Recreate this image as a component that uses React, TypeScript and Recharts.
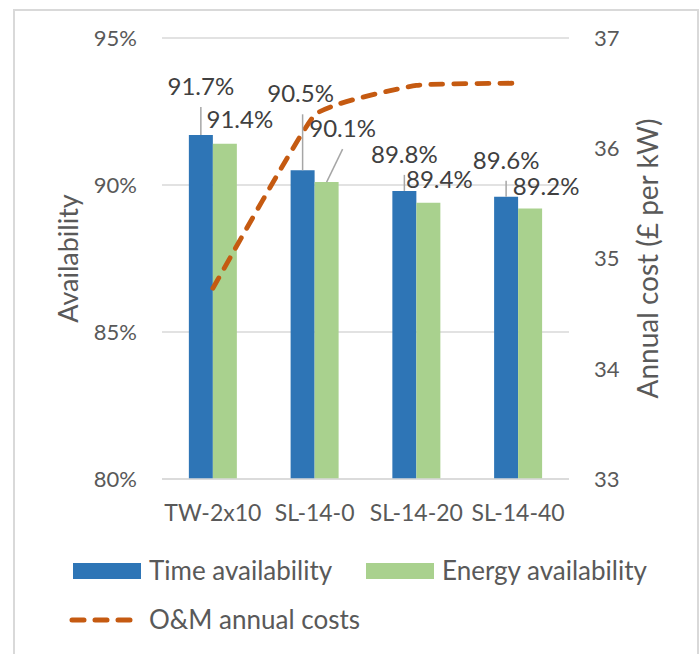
import React from "react";
import { ComposedChart, Bar, Line, XAxis, YAxis, CartesianGrid, Legend } from "recharts";

const categories = ["TW-2x10", "SL-14-0", "SL-14-20", "SL-14-40"];
const timeAvailability = [91.7, 90.5, 89.8, 89.6];
const energyAvailability = [91.4, 90.1, 89.4, 89.2];
const omAnnualCosts = [34.73, 36.3, 36.57, 36.59];
const leftTicks = [80, 85, 90, 95];
const rightTicks = [33, 34, 35, 36, 37];

const data = categories.map((c, i) => ({
  name: c,
  time: timeAvailability[i],
  energy: energyAvailability[i],
  cost: omAnnualCosts[i],
}));

const FONT = "Lato, 'Open Sans', sans-serif";
const BLUE = "#2E75B6";
const GREEN = "#A9D18E";
const ORANGE = "#C55A11";
const TICK = "#595959";
const LABEL = "#404040";
const LEADER = "#A6A6A6";

// lightly smoothed line (short Catmull-Rom style handles)
const SMOOTH = 0.06;
const smoothCurve = (context: any) => {
  let pts: number[][] = [];
  return {
    areaStart() {},
    areaEnd() {},
    lineStart() {
      pts = [];
    },
    point(x: number, y: number) {
      pts.push([+x, +y]);
    },
    lineEnd() {
      if (!pts.length) return;
      context.moveTo(pts[0][0], pts[0][1]);
      for (let i = 0; i < pts.length - 1; i++) {
        const p0 = pts[i - 1] || pts[i];
        const p1 = pts[i];
        const p2 = pts[i + 1];
        const p3 = pts[i + 2] || pts[i + 1];
        const c1x = p1[0] + (p2[0] - p0[0]) * SMOOTH;
        const c1y = p1[1] + (p2[1] - p0[1]) * SMOOTH;
        const c2x = p2[0] - (p3[0] - p1[0]) * SMOOTH;
        const c2y = p2[1] - (p3[1] - p1[1]) * SMOOTH;
        context.bezierCurveTo(c1x, c1y, c2x, c2y, p2[0], p2[1]);
      }
    },
  };
};

// label placement (dx from bar centre, rise of baseline above bar top, leader line)
const timeLabelPos = [
  { dx: 0, rise: 40, leader: true },
  { dx: -2, rise: 68, leader: true },
  { dx: 0, rise: 28, leader: true },
  { dx: 0, rise: 28, leader: true },
];
const energyLabelPos = [
  { dx: 15, rise: 16, leader: false },
  { dx: 16, rise: 45, leader: true },
  { dx: 11, rise: 15, leader: false },
  { dx: 16, rise: 14, leader: false },
];

const makeLabel = (pos: any[], slanted: boolean) => (props: any) => {
  const { x, y, width, value, index } = props;
  const p = pos[index];
  const cx = x + width / 2;
  const tx = cx + p.dx;
  const ty = y - p.rise;
  return (
    <g key={`l-${index}`}>
      {p.leader && (
        <line
          x1={slanted ? tx : cx}
          y1={ty + 12}
          x2={cx}
          y2={y}
          stroke={LEADER}
          strokeWidth={1.5}
        />
      )}
      <text x={tx} y={ty} textAnchor="middle" fill={LABEL} fontSize={24} fontFamily={FONT}>
        {`${Number(value).toFixed(1)}%`}
      </text>
    </g>
  );
};

const renderLegend = (props: any) => {
  const payload = props.payload || [];
  const find = (k: string) => payload.find((p: any) => p.dataKey === k) || {};
  const t = find("time");
  const e = find("energy");
  const c = find("cost");
  const textStyle: React.CSSProperties = {
    position: "absolute",
    fontFamily: FONT,
    fontSize: 26,
    color: TICK,
    whiteSpace: "nowrap",
    lineHeight: "30px",
  };
  return (
    <div style={{ position: "relative", width: 699, height: 100 }}>
      <div style={{ position: "absolute", left: 73, top: 13, width: 68, height: 16, background: t.color }} />
      <div style={{ ...textStyle, left: 149, top: 5 }}>{t.value}</div>
      <div style={{ position: "absolute", left: 366, top: 13, width: 68, height: 16, background: e.color }} />
      <div style={{ ...textStyle, left: 442, top: 5 }}>{e.value}</div>
      <svg style={{ position: "absolute", left: 60, top: 60 }} width={90} height={20}>
        <line x1={12} y1={10} x2={75} y2={10} stroke={c.color} strokeWidth={5} strokeDasharray="12 11" strokeLinecap="round" />
      </svg>
      <div style={{ ...textStyle, left: 149, top: 54 }}>{c.value}</div>
    </div>
  );
};

export default function App() {
  return (
    <div style={{ position: "absolute", left: 0, top: 0, width: 699, height: 654, background: "#fff", overflow: "hidden" }}>
      <div
        style={{
          position: "absolute",
          left: 13,
          top: 9,
          width: 686,
          height: 700,
          boxSizing: "border-box",
          border: "2px solid #D9D9D9",
        }}
      />
      <div style={{ position: "absolute", left: 0, top: 0 }}>
        <ComposedChart
          width={699}
          height={654}
          data={data}
          margin={{ top: 38, right: 0, left: 0, bottom: 145 }}
          barGap={0}
          barCategoryGap="26.4%"
        >
          <CartesianGrid vertical={false} stroke="#D9D9D9" strokeWidth={1.5} yAxisId="left" />
          <XAxis
            dataKey="name"
            height={30}
            axisLine={{ stroke: "#D9D9D9", strokeWidth: 1.5 }}
            tickLine={false}
            tickSize={0}
            tickMargin={26}
            tick={{ fill: TICK, fontSize: 23, fontFamily: FONT }}
            interval={0}
          />
          <YAxis
            yAxisId="left"
            width={162}
            domain={[80, 95]}
            ticks={leftTicks}
            tickFormatter={(v: number) => `${v}%`}
            axisLine={false}
            tickLine={false}
            tickSize={0}
            tickMargin={25}
            tick={{ fill: TICK, fontSize: 22, fontFamily: FONT }}
            label={{
              content: (p: any) => {
                const vb = p.viewBox;
                const cx = vb.x + 67;
                const cy = vb.y + vb.height / 2;
                return (
                  <text x={cx} y={cy} transform={`rotate(-90 ${cx} ${cy})`} textAnchor="middle" dominantBaseline="central" fill={TICK} fontSize={27} fontFamily={FONT}>
                    Availability
                  </text>
                );
              },
            }}
          />
          <YAxis
            yAxisId="right"
            orientation="right"
            width={130}
            domain={[33, 37]}
            ticks={rightTicks}
            axisLine={false}
            tickLine={false}
            tickSize={0}
            tickMargin={25}
            tick={{ fill: TICK, fontSize: 22, fontFamily: FONT }}
            label={{
              content: (p: any) => {
                const vb = p.viewBox;
                const cx = vb.x + 78;
                const cy = vb.y + vb.height / 2;
                return (
                  <text x={cx} y={cy} transform={`rotate(-90 ${cx} ${cy})`} textAnchor="middle" dominantBaseline="central" fill={TICK} fontSize={28} fontFamily={FONT}>
                    Annual cost (£ per kW)
                  </text>
                );
              },
            }}
          />
          <Bar yAxisId="left" dataKey="time" name="Time availability" fill={BLUE} isAnimationActive={false} label={makeLabel(timeLabelPos, false)} />
          <Bar yAxisId="left" dataKey="energy" name="Energy availability" fill={GREEN} isAnimationActive={false} label={makeLabel(energyLabelPos, true)} />
          <Line
            yAxisId="right"
            type={smoothCurve as any}
            dataKey="cost"
            name="O&M annual costs"
            stroke={ORANGE}
            strokeWidth={4.8}
            strokeDasharray="12 11"
            strokeLinecap="round"
            dot={false}
            activeDot={false}
            isAnimationActive={false}
          />
          <Legend
            layout="horizontal"
            verticalAlign="middle"
            align="center"
            content={renderLegend}
            wrapperStyle={{ position: "absolute", left: 0, top: 550, width: 699, height: 100 }}
          />
        </ComposedChart>
      </div>
    </div>
  );
}
